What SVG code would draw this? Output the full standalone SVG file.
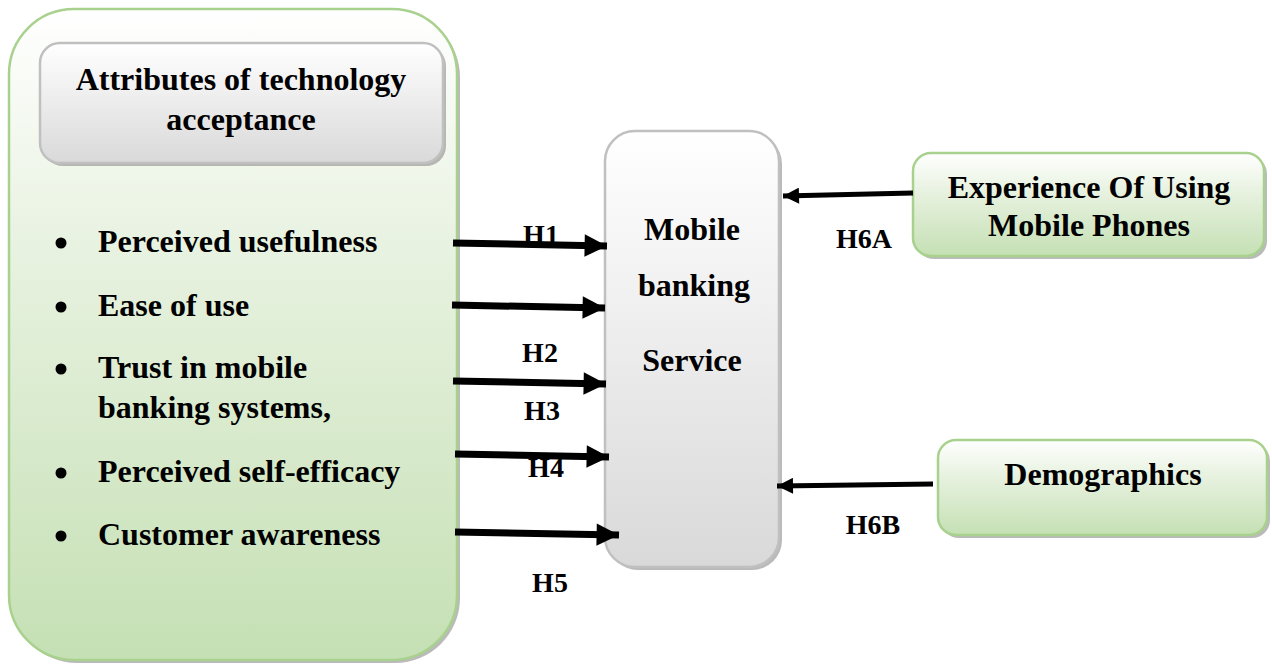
<svg xmlns="http://www.w3.org/2000/svg" width="1272" height="664" viewBox="0 0 1272 664">
<defs>
<linearGradient id="green" x1="0" y1="0" x2="0" y2="1">
<stop offset="0" stop-color="#ffffff"/>
<stop offset="0.4" stop-color="#e6f1de"/>
<stop offset="1" stop-color="#c5e0b4"/>
</linearGradient>
<linearGradient id="gray" x1="0" y1="0" x2="0" y2="1">
<stop offset="0" stop-color="#ffffff"/>
<stop offset="1" stop-color="#d9d9d9"/>
</linearGradient>
<marker id="ah" viewBox="0 0 10 10" refX="10" refY="5" markerWidth="3.6" markerHeight="3.2" orient="auto" markerUnits="strokeWidth">
<path d="M0,0 L10,5 L0,10 z" fill="#000"/>
</marker>
</defs>
<style>
text{font-family:"Liberation Serif","Times New Roman",serif;font-weight:bold;fill:#000}
.big{font-size:32px}
.lab{font-size:28px}
.gbox{fill:url(#green);stroke:#a9d18e;stroke-width:2.5}
.gybox{fill:url(#gray);stroke:#c0c0c0;stroke-width:2.5}
.shadow{fill:#8c8c8c;opacity:0.6}
.arr{stroke:#000;stroke-width:7;fill:none;marker-end:url(#ah)}
.arr2{stroke:#000;stroke-width:5;fill:none;marker-end:url(#ah)}
</style>
<rect width="1272" height="664" fill="#fff"/>

<g id="attributes">
<rect class="shadow" x="12" y="12" width="448" height="651" rx="65"/>
<rect class="gbox" x="9" y="9" width="448" height="651" rx="65"/>
</g>

<g id="attributes-title">
<rect class="shadow" x="43" y="46" width="403" height="120" rx="20"/>
<rect class="gybox" x="40" y="43" width="403" height="120" rx="20"/>
<text class="big" x="241" y="90" text-anchor="middle">Attributes of technology</text>
<text class="big" x="241" y="130" text-anchor="middle">acceptance</text>
</g>

<g id="attribute-list">
<circle cx="61" cy="243" r="5.5"/>
<text class="big" x="98" y="252">Perceived usefulness</text>
<circle cx="61" cy="307" r="5.5"/>
<text class="big" x="98" y="316">Ease of use</text>
<circle cx="61" cy="369" r="5.5"/>
<text class="big" x="98" y="378">Trust in mobile</text>
<text class="big" x="98" y="418">banking systems,</text>
<circle cx="61" cy="473" r="5.5"/>
<text class="big" x="98" y="482">Perceived self-efficacy</text>
<circle cx="61" cy="536" r="5.5"/>
<text class="big" x="98" y="545">Customer awareness</text>
</g>

<g id="mobile-banking">
<rect class="shadow" x="608" y="134" width="174" height="436" rx="30"/>
<rect class="gybox" x="605" y="131" width="174" height="436" rx="30"/>
<text class="big" x="692" y="240" text-anchor="middle">Mobile</text>
<text class="big" x="694" y="296" text-anchor="middle">banking</text>
<text class="big" x="692" y="371" text-anchor="middle">Service</text>
</g>

<g id="experience">
<rect class="shadow" x="916" y="156" width="351" height="103" rx="18"/>
<rect class="gbox" x="913" y="153" width="351" height="103" rx="18"/>
<text class="big" x="1089" y="198" text-anchor="middle">Experience Of Using</text>
<text class="big" x="1089" y="236" text-anchor="middle">Mobile Phones</text>
</g>

<g id="demographics">
<rect class="shadow" x="941" y="443" width="329" height="95" rx="18"/>
<rect class="gbox" x="938" y="440" width="329" height="95" rx="18"/>
<text class="big" x="1103" y="485" text-anchor="middle">Demographics</text>
</g>

<g id="connectors">
<line class="arr" x1="453" y1="243" x2="607" y2="246"/>
<line class="arr" x1="452" y1="305" x2="605" y2="308"/>
<line class="arr" x1="453" y1="381" x2="606" y2="384"/>
<line class="arr" x1="455" y1="454" x2="609" y2="457"/>
<line class="arr" x1="455" y1="532" x2="619" y2="535"/>
<line class="arr2" x1="913" y1="193" x2="783" y2="196"/>
<line class="arr2" x1="933" y1="484" x2="777" y2="486"/>
<text class="lab" x="541" y="244" text-anchor="middle">H1</text>
<text class="lab" x="540" y="362" text-anchor="middle">H2</text>
<text class="lab" x="542" y="420" text-anchor="middle">H3</text>
<text class="lab" x="546" y="477" text-anchor="middle">H4</text>
<text class="lab" x="550" y="592" text-anchor="middle">H5</text>
<text class="lab" x="864" y="248" text-anchor="middle">H6A</text>
<text class="lab" x="873" y="534" text-anchor="middle">H6B</text>
</g>
</svg>
